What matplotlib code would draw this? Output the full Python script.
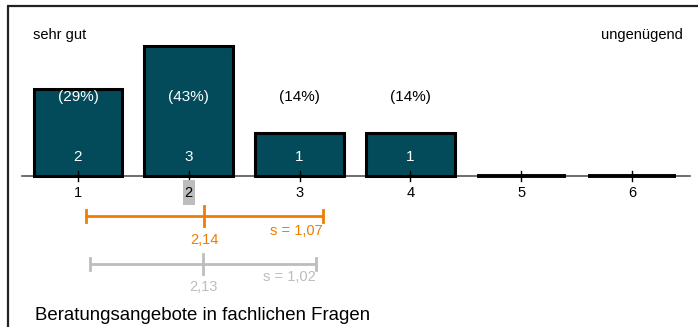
import matplotlib
matplotlib.use("Agg")
import matplotlib.pyplot as plt
from matplotlib.patches import Rectangle

plt.rcParams['font.family'] = ['Liberation Sans', 'DejaVu Sans']

# Grades 1..6 with response counts
grades = [1, 2, 3, 4, 5, 6]
counts = [2, 3, 1, 1, 0, 0]
percents = ["(29%)", "(43%)", "(14%)", "(14%)", "", ""]
median_grade = 2

# Mean and standard deviation: this group and the comparison group
mean_main, sd_main = 2.14, 1.07
mean_cmp, sd_cmp = 2.13, 1.02
mean_main_lbl, sd_main_lbl = "2,14", "s = 1,07"
mean_cmp_lbl, sd_cmp_lbl = "2,13", "s = 1,02"

left_label = "sehr gut"
right_label = "ungenügend"
item_title = "Beratungsangebote in fachlichen Fragen"

bar_color = "#034b5a"
orange = "#f07d00"
grey = "#bdbdbd"

W, H = 698, 327
fig = plt.figure(figsize=(W / 100, H / 100), dpi=100)
ax = fig.add_axes([0, 0, 1, 1])
ax.set_axis_off()

# data coordinates: x in grade units, y in count units
px_per_x = 110.8
px_per_y = 43.5
x0_px, base_px = 78, 176
ax.set_xlim(1 - x0_px / px_per_x, 1 + (W - x0_px) / px_per_x)
ax.set_ylim(-(H - base_px) / px_per_y, base_px / px_per_y)


def ypx(p):
    """convert a pixel row to the y data coordinate"""
    return (base_px - p) / px_per_y


def xpx(p):
    return 1 + (p - x0_px) / px_per_x


# frame lines (left and top)
ax.plot([xpx(7.5), xpx(7.5)], [ypx(5.5), ypx(330)], color="#222222", lw=1.6,
        solid_capstyle="butt")
ax.plot([xpx(7), xpx(700)], [ypx(5.5), ypx(5.5)], color="#222222", lw=1.6,
        solid_capstyle="butt")

# baseline axis
ax.plot([xpx(22), xpx(690)], [0, 0], color="#555555", lw=1.2, zorder=1)

bw = 0.8
for g, c, pct in zip(grades, counts, percents):
    if c > 0:
        ax.bar(g, c, width=bw, color=bar_color, edgecolor="black", lw=2.2,
               zorder=2)
        ax.text(g, ypx(157), str(c), ha="center", va="center", color="white",
                fontsize=11, zorder=4)
    else:
        ax.plot([g - bw / 2, g + bw / 2], [0, 0], color="black", lw=2.8,
                solid_capstyle="butt", zorder=2)
    if pct:
        inside = c > 0 and ypx(97) < c
        ax.text(g, ypx(97), pct, ha="center", va="center",
                color="white" if inside else "black", fontsize=11, zorder=4)
    # tick mark
    ax.plot([g, g], [ypx(171), ypx(181)], color="black", lw=1.0, zorder=3)
    # tick label
    ax.text(g, ypx(193), str(g), ha="center", va="center", color="black",
            fontsize=10.5, zorder=4)

# median highlight behind the tick label
ax.add_patch(Rectangle((median_grade - 6 / px_per_x, ypx(205)),
                       12 / px_per_x, 25 / px_per_y, color="#bdbdbd", zorder=3,
                       lw=0))

ax.text(xpx(33), ypx(35), left_label, ha="left", va="center", fontsize=10.5)
ax.text(xpx(683), ypx(35), right_label, ha="right", va="center", fontsize=10.5)


def sd_bar(mean, sd, y_line, color, lw, mean_lbl, sd_lbl, y_mean, y_sd):
    lo, hi = mean - sd, mean + sd
    ax.plot([lo, hi], [ypx(y_line)] * 2, color=color, lw=lw,
            solid_capstyle="butt")
    for xx in (lo, hi):
        ax.plot([xx, xx], [ypx(y_line - 6), ypx(y_line + 6)], color=color, lw=lw)
    ax.plot([mean, mean], [ypx(y_line - 10), ypx(y_line + 10)], color=color,
            lw=lw)
    ax.text(mean, ypx(y_mean), mean_lbl, ha="center", va="center", color=color,
            fontsize=10.5)
    ax.text(hi, ypx(y_sd), sd_lbl, ha="right", va="center", color=color,
            fontsize=10.5)


sd_bar(mean_main, sd_main, 216, orange, 2.0, mean_main_lbl, sd_main_lbl, 240, 231)
sd_bar(mean_cmp, sd_cmp, 264, grey, 2.0, mean_cmp_lbl, sd_cmp_lbl, 287, 277)

ax.text(xpx(35), ypx(315), item_title, ha="left", va="center", fontsize=13.4)

fig.savefig("out.png", dpi=100)
